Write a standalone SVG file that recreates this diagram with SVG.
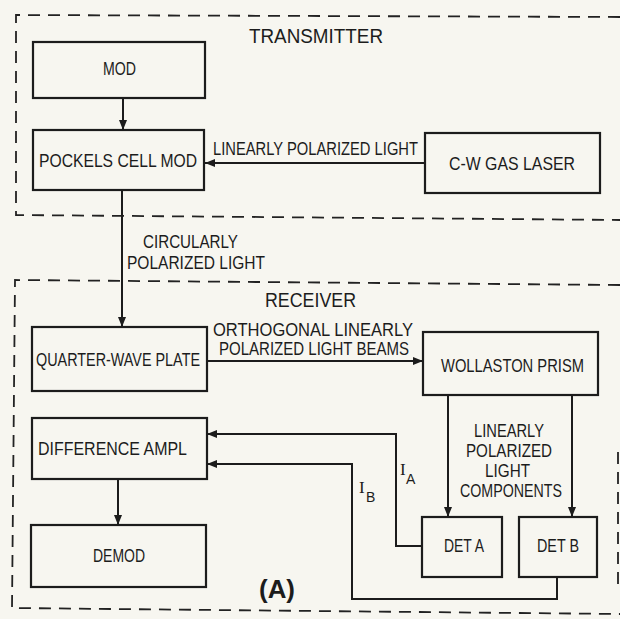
<svg xmlns="http://www.w3.org/2000/svg" width="620" height="619" viewBox="0 0 620 619">
<defs>
<style>
.bg{fill:#f7f6f0}
.box{fill:none;stroke:#1c1c1c;stroke-width:2.2}
.ln{fill:none;stroke:#1c1c1c;stroke-width:2}
.dash{fill:none;stroke:#222;stroke-width:1.8;stroke-dasharray:12 8}
text{font-family:"Liberation Sans",Arial,sans-serif;fill:#1c1c1c;font-size:18px}
.t{font-size:20px}
.ser{font-family:"Liberation Serif","Times New Roman",serif;font-size:17px}
.sub{font-size:14px}
.big{font-size:26px;font-weight:bold}
</style>
<marker id="ah" viewBox="0 0 10 8" refX="10" refY="4" markerWidth="10" markerHeight="8" markerUnits="userSpaceOnUse" orient="auto">
<path d="M0,0 L10,4 L0,8 Z" fill="#1c1c1c"/>
</marker>
</defs>
<rect class="bg" x="0" y="0" width="620" height="619"/>

<g id="transmitter">
<path class="dash" d="M620,17 L16,15 L16,215 L620,220"/>
<text class="t" x="249" y="43" textLength="134" lengthAdjust="spacingAndGlyphs">TRANSMITTER</text>
</g>
<g id="receiver">
<path class="dash" d="M620,285 L15,280 L12,608 L620,614"/>
<path class="dash" d="M618,452 L618,590"/>
<text class="t" x="265" y="307" textLength="91" lengthAdjust="spacingAndGlyphs">RECEIVER</text>
</g>

<g id="mod">
<rect class="box" x="33" y="42" width="172" height="56"/>
<text x="103" y="75" textLength="33" lengthAdjust="spacingAndGlyphs">MOD</text>
</g>
<g id="pockels">
<rect class="box" x="33" y="130" width="171" height="60"/>
<text x="39" y="167" textLength="158" lengthAdjust="spacingAndGlyphs">POCKELS CELL MOD</text>
</g>
<g id="laser">
<rect class="box" x="425" y="133" width="175" height="60"/>
<text x="449" y="170" textLength="126" lengthAdjust="spacingAndGlyphs">C-W GAS LASER</text>
</g>
<g id="quarterwave">
<rect class="box" x="32" y="327" width="175" height="64"/>
<text x="36" y="366" textLength="164" lengthAdjust="spacingAndGlyphs">QUARTER-WAVE PLATE</text>
</g>
<g id="wollaston">
<rect class="box" x="423" y="332" width="175" height="63"/>
<text x="441" y="372" textLength="143" lengthAdjust="spacingAndGlyphs">WOLLASTON PRISM</text>
</g>
<g id="diffampl">
<rect class="box" x="32" y="418" width="175" height="61"/>
<text x="38" y="455" textLength="149" lengthAdjust="spacingAndGlyphs">DIFFERENCE  AMPL</text>
</g>
<g id="demod">
<rect class="box" x="31" y="525" width="175" height="62"/>
<text x="93" y="562" textLength="52" lengthAdjust="spacingAndGlyphs">DEMOD</text>
</g>
<g id="deta">
<rect class="box" x="422" y="517" width="80" height="60"/>
<text x="444" y="552" textLength="40" lengthAdjust="spacingAndGlyphs">DET A</text>
</g>
<g id="detb">
<rect class="box" x="519" y="517" width="78" height="60"/>
<text x="537" y="552" textLength="42" lengthAdjust="spacingAndGlyphs">DET B</text>
</g>

<g id="connectors">
<path class="ln" d="M123,98 V130" marker-end="url(#ah)"/>
<path class="ln" d="M425,163 H205" marker-end="url(#ah)"/>
<path class="ln" d="M122,190 V327" marker-end="url(#ah)"/>
<path class="ln" d="M207,361 H423" marker-end="url(#ah)"/>
<path class="ln" d="M448,395 V517" marker-end="url(#ah)"/>
<path class="ln" d="M572,395 V517" marker-end="url(#ah)"/>
<path class="ln" d="M118,479 V525" marker-end="url(#ah)"/>
<path class="ln" d="M422,546 H396 V434 H207" marker-end="url(#ah)"/>
<path class="ln" d="M557,577 V599 H352 V464 H207" marker-end="url(#ah)"/>
</g>

<g id="labels">
<text x="213" y="155" textLength="205" lengthAdjust="spacingAndGlyphs">LINEARLY POLARIZED LIGHT</text>
<text x="143" y="248" textLength="95" lengthAdjust="spacingAndGlyphs">CIRCULARLY</text>
<text x="127" y="269" textLength="138" lengthAdjust="spacingAndGlyphs">POLARIZED LIGHT</text>
<text x="213" y="336" textLength="200" lengthAdjust="spacingAndGlyphs">ORTHOGONAL LINEARLY</text>
<text x="219" y="355" textLength="190" lengthAdjust="spacingAndGlyphs">POLARIZED LIGHT BEAMS</text>
<text x="474" y="437" textLength="70" lengthAdjust="spacingAndGlyphs">LINEARLY</text>
<text x="466" y="457" textLength="86" lengthAdjust="spacingAndGlyphs">POLARIZED</text>
<text x="485" y="477" textLength="45" lengthAdjust="spacingAndGlyphs">LIGHT</text>
<text x="460" y="497" textLength="102" lengthAdjust="spacingAndGlyphs">COMPONENTS</text>
<text class="ser" x="400" y="475">I</text><text class="sub" x="406" y="484">A</text>
<text class="ser" x="359" y="493">I</text><text class="sub" x="366" y="502">B</text>
<text class="big" x="259" y="598" textLength="36" lengthAdjust="spacingAndGlyphs">(A)</text>
</g>
</svg>
